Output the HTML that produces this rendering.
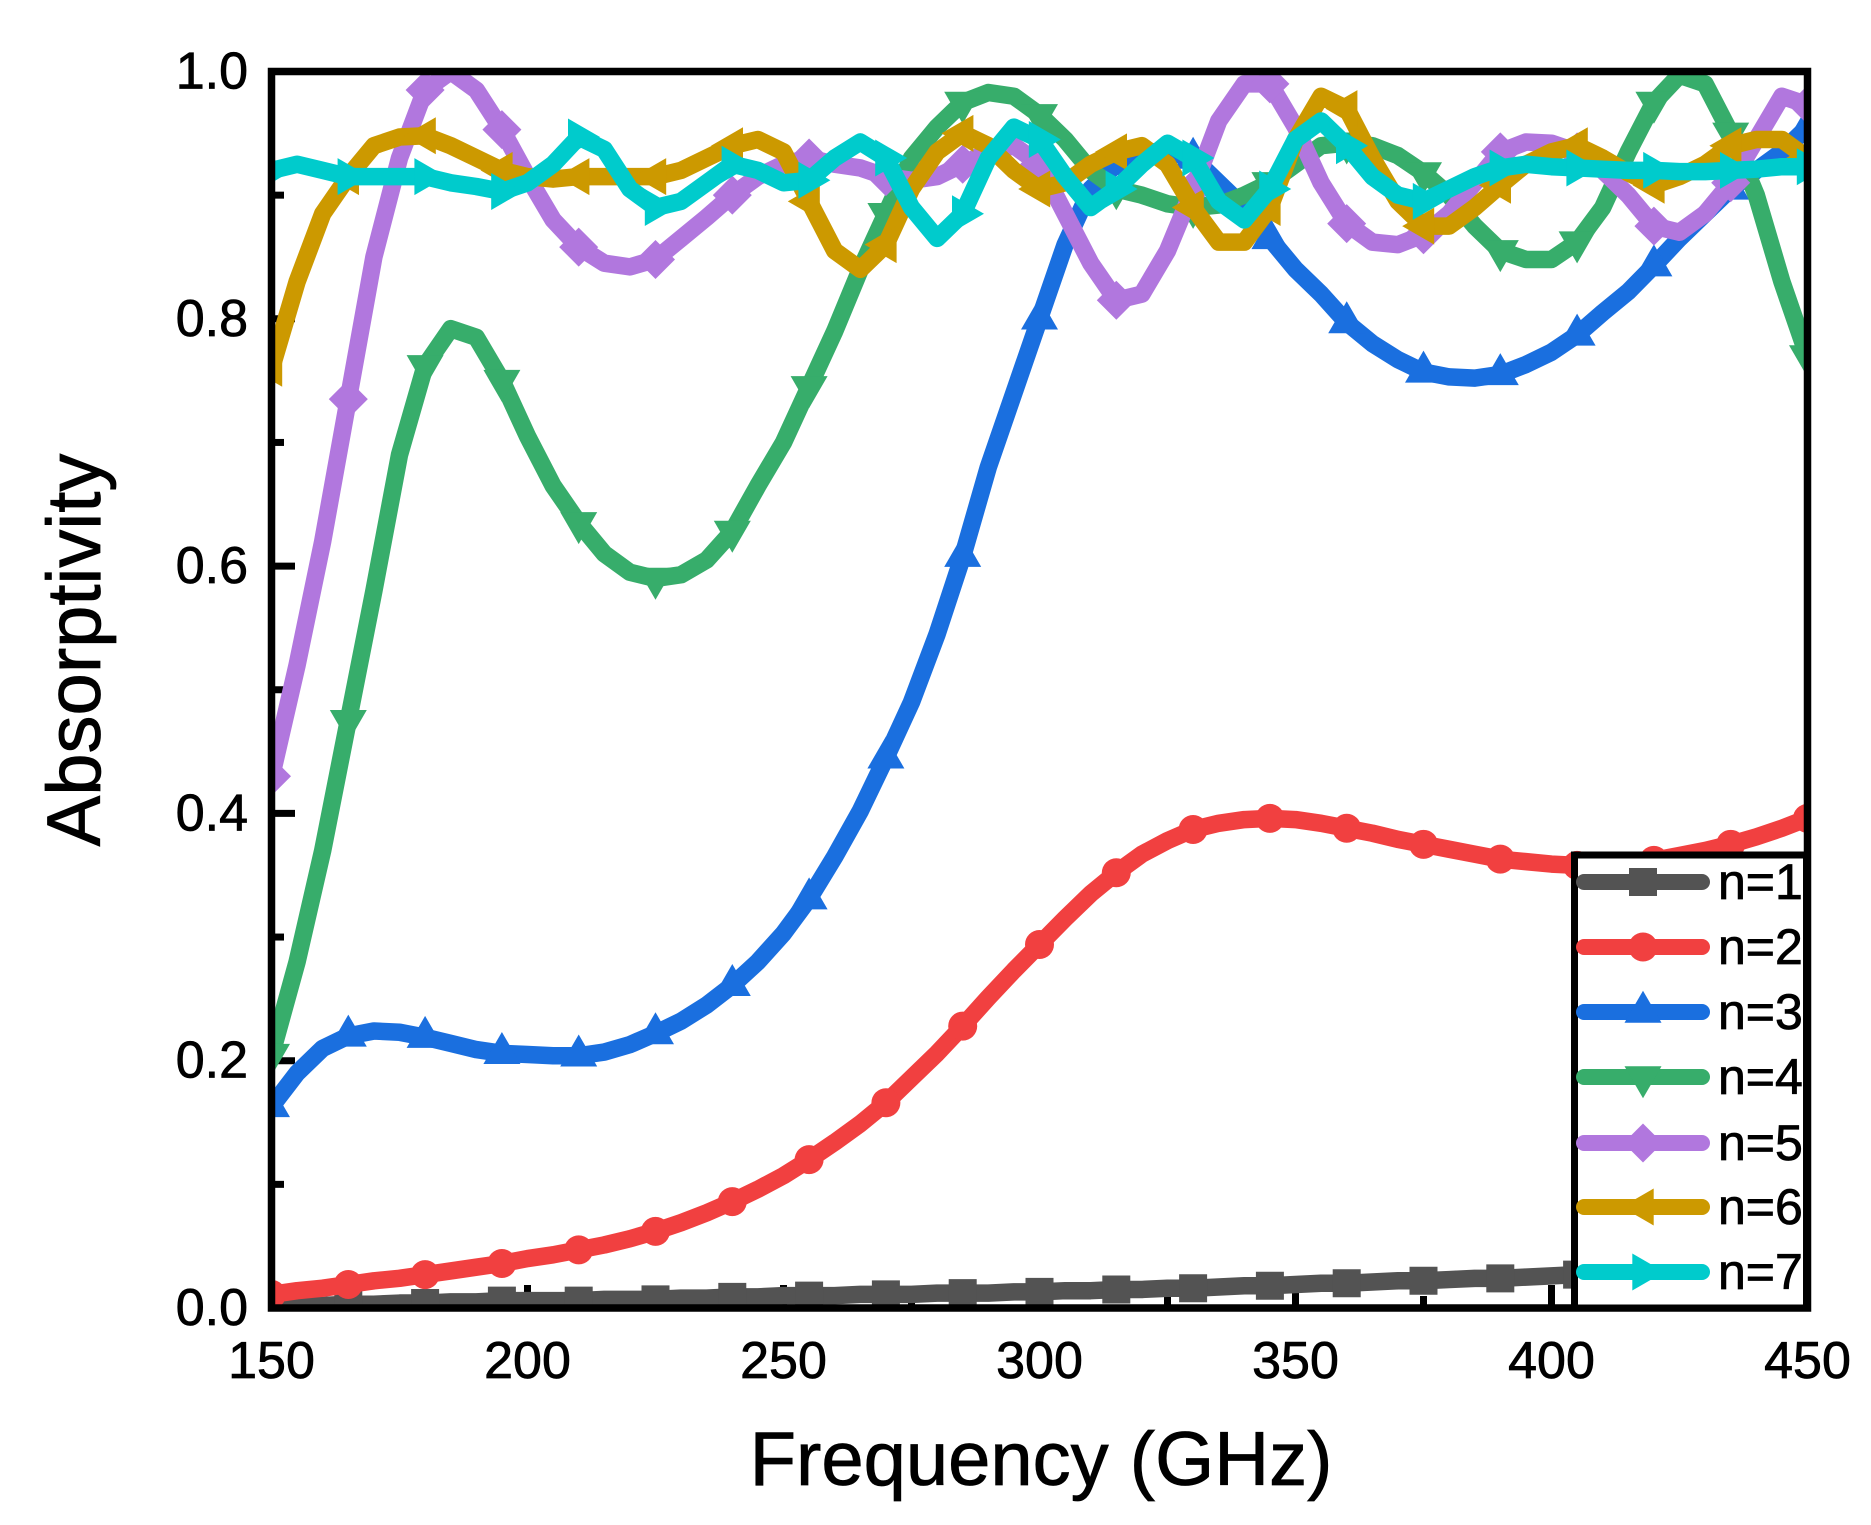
<!DOCTYPE html>
<html lang="en">
<head>
<meta charset="utf-8">
<title>Absorptivity vs Frequency</title>
<style>
html,body{margin:0;padding:0;background:#fff;}
svg{display:block;font-family:"Liberation Sans",Arial,sans-serif;}
svg text{stroke:#000;stroke-width:0.8px;}
</style>
</head>
<body>
<svg id="chart" xmlns="http://www.w3.org/2000/svg" width="1871" height="1525" viewBox="0 0 1871 1525">
<defs><clipPath id="plot-clip"><rect x="275" y="75" width="1529.5" height="1229.5"/></clipPath></defs>
<rect x="0" y="0" width="1871" height="1525" fill="#fff"/>
<g id="ticks"></g>
<g id="series" clip-path="url(#plot-clip)"></g>
<rect x="271.5" y="71.5" width="1536" height="1236.5" fill="none" stroke="#000" stroke-width="7.5"/>
<g id="labels" fill="#000" font-size="52"></g>
<text x="1041" y="1485" font-size="76" text-anchor="middle" fill="#000">Frequency (GHz)</text>
<text transform="translate(100 650) rotate(-90)" font-size="76" text-anchor="middle" fill="#000">Absorptivity</text>
<g id="legend">
<rect x="1574.5" y="855" width="232" height="453" fill="#fff" stroke="#000" stroke-width="7"/>
</g>
</svg>
<script>
const freqs = [150,155,160,165,170,175,180,185,190,195,200,205,210,215,220,225,230,235,240,245,250,255,260,265,270,275,280,285,290,295,300,305,310,315,320,325,330,335,340,345,350,355,360,365,370,375,380,385,390,395,400,405,410,415,420,425,430,435,440,445,450];
const n1 = [.000,.001,.002,.003,.003,.004,.004,.005,.005,.006,.006,.006,.006,.007,.007,.007,.008,.008,.009,.009,.010,.010,.010,.011,.011,.011,.012,.012,.012,.013,.013,.014,.014,.015,.015,.016,.016,.017,.018,.018,.019,.020,.020,.021,.022,.022,.023,.024,.024,.025,.026,.027,.028,.029,.030,.032,.034,.036,.038,.040,.042];
const n2 = [.011,.014,.016,.019,.022,.024,.027,.030,.033,.036,.040,.043,.047,.051,.056,.062,.069,.077,.086,.096,.107,.120,.134,.149,.166,.186,.206,.228,.251,.273,.294,.315,.335,.352,.367,.378,.387,.392,.395,.396,.395,.392,.388,.384,.379,.375,.371,.367,.363,.361,.359,.358,.359,.360,.362,.366,.370,.375,.381,.388,.396];
const n3 = [.163,.190,.210,.220,.224,.223,.219,.214,.209,.206,.205,.204,.204,.207,.213,.222,.232,.245,.261,.280,.303,.331,.365,.402,.445,.490,.545,.608,.680,.740,.800,.860,.905,.925,.935,.935,.930,.910,.890,.865,.840,.820,.797,.780,.767,.757,.753,.752,.755,.763,.773,.787,.805,.822,.843,.865,.885,.905,.920,.935,.955];
const n4 = [.205,.280,.370,.475,.580,.690,.762,.792,.785,.750,.705,.665,.635,.610,.595,.590,.593,.605,.628,.665,.700,.745,.790,.840,.885,.930,.955,.975,.983,.980,.965,.945,.920,.905,.900,.893,.890,.892,.900,.910,.925,.940,.942,.940,.932,.918,.900,.875,.855,.848,.848,.862,.890,.935,.975,.997,.990,.950,.900,.830,.770];
const n5 = [.430,.520,.620,.735,.850,.930,.985,1.000,.985,.953,.915,.880,.858,.845,.842,.848,.865,.882,.900,.915,.925,.930,.925,.922,.915,.912,.915,.925,.935,.940,.925,.885,.845,.815,.820,.855,.905,.960,.990,.990,.955,.910,.877,.862,.860,.868,.885,.910,.935,.943,.942,.935,.920,.900,.875,.870,.885,.910,.945,.980,.973];
const n6 = [.760,.830,.885,.915,.940,.947,.948,.940,.930,.920,.915,.913,.915,.915,.915,.915,.920,.930,.940,.945,.935,.895,.855,.840,.860,.905,.935,.950,.940,.920,.905,.910,.925,.935,.940,.925,.890,.862,.862,.890,.945,.980,.970,.930,.895,.875,.875,.890,.908,.925,.935,.940,.930,.918,.908,.915,.925,.940,.945,.945,.930];
const n7 = [.920,.925,.920,.915,.915,.915,.915,.910,.907,.903,.910,.925,.947,.937,.905,.890,.895,.910,.925,.920,.910,.912,.930,.943,.930,.890,.865,.885,.930,.955,.945,.915,.890,.905,.925,.942,.930,.895,.880,.905,.945,.960,.940,.915,.900,.895,.905,.915,.922,.925,.923,.922,.921,.920,.920,.919,.919,.920,.921,.923,.923];
const seriesLabels = ['n=1','n=2','n=3','n=4','n=5','n=6','n=7'];
const seriesValues = [n1,n2,n3,n4,n5,n6,n7];
const seriesColors = ['#535353','#F14040','#1A6FDF','#37AD6B','#B177DE','#CC9900','#00CBCC'];
const seriesMarkers = ['square','circle','up','down','diamond','left','right'];
const xMajorTicks = [150,200,250,300,350,400,450];
const xMinorTicks = [175,225,275,325,375,425];
const yMajorTicks = [0,0.2,0.4,0.6,0.8,1.0];
const yMinorTicks = [0.1,0.3,0.5,0.7,0.9];
const yTickLabels = ['0.0','0.2','0.4','0.6','0.8','1.0'];

const SVG_NS = 'http://www.w3.org/2000/svg';
function xScale(v){ return 271.5 + (v - 150) * (1536 / 300); }
function yScale(v){ return 1308 - v * 1236.5; }
function make(tag, attrs, parent){
  const el = document.createElementNS(SVG_NS, tag);
  for (const k in attrs) el.setAttribute(k, attrs[k]);
  parent.appendChild(el);
  return el;
}
function markerPoints(kind, cx, cy){
  const pts = {
    up: [[0,-21.3],[18.5,10.7],[-18.5,10.7]],
    down: [[0,21.3],[18.5,-10.7],[-18.5,-10.7]],
    left: [[-21.3,0],[10.7,-18.5],[10.7,18.5]],
    right: [[21.3,0],[-10.7,-18.5],[-10.7,18.5]],
    diamond: [[0,-19.5],[19.5,0],[0,19.5],[-19.5,0]],
    square: [[-14,-14],[14,-14],[14,14],[-14,14]]
  }[kind];
  return pts.map(p => (cx + p[0]) + ',' + (cy + p[1])).join(' ');
}
function drawMarker(kind, cx, cy, color, parent){
  let m;
  if (kind === 'circle') {
    m = make('circle', {cx: cx, cy: cy, r: 14.5, fill: color}, parent);
  } else {
    m = make('polygon', {points: markerPoints(kind, cx, cy), fill: color}, parent);
  }
  return m;
}

const tickGroup = document.getElementById('ticks');
xMajorTicks.forEach(v => {
  const t = make('line', {x1: xScale(v), x2: xScale(v), y1: 1308, y2: 1285, stroke: '#000', 'stroke-width': 7}, tickGroup);
  
  
});
xMinorTicks.forEach(v => {
  const t = make('line', {x1: xScale(v), x2: xScale(v), y1: 1308, y2: 1296, stroke: '#000', 'stroke-width': 7}, tickGroup);
  
  
});
yMajorTicks.forEach(v => {
  const t = make('line', {x1: 271.5, x2: 295, y1: yScale(v), y2: yScale(v), stroke: '#000', 'stroke-width': 7}, tickGroup);
  
  
});
yMinorTicks.forEach(v => {
  const t = make('line', {x1: 271.5, x2: 284, y1: yScale(v), y2: yScale(v), stroke: '#000', 'stroke-width': 7}, tickGroup);
  
  
});

const labelGroup = document.getElementById('labels');
xMajorTicks.forEach(v => {
  const t = make('text', {x: xScale(v), y: 1378, 'text-anchor': 'middle'}, labelGroup);
  t.textContent = String(v);
  
  
});
yMajorTicks.forEach((v, i) => {
  const t = make('text', {x: 248, y: yScale(v) + 17, 'text-anchor': 'end'}, labelGroup);
  t.textContent = yTickLabels[i];
  
  
});

const seriesGroup = document.getElementById('series');
seriesValues.forEach((vals, s) => {
  const g = make('g', {}, seriesGroup);
  
  
  const pts = vals.map((v, i) => xScale(freqs[i]) + ',' + yScale(v)).join(' ');
  const line = make('polyline', {points: pts, fill: 'none', stroke: seriesColors[s], 'stroke-width': 17.5, 'stroke-linejoin': 'round'}, g);
  
  
  vals.forEach((v, i) => {
    if (i % 3 !== 0) return;
    const m = drawMarker(seriesMarkers[s], xScale(freqs[i]), yScale(v), seriesColors[s], g);
    
    
  });
});

const legendGroup = document.getElementById('legend');
const legendRowY = [882, 947, 1012, 1077, 1143, 1207, 1272];
seriesLabels.forEach((label, s) => {
  const y = legendRowY[s];
  const g = make('g', {}, legendGroup);
  
  
  const l = make('line', {x1: 1584, x2: 1702, y1: y, y2: y, stroke: seriesColors[s], 'stroke-width': 16, 'stroke-linecap': 'round'}, g);
  
  
  const m = drawMarker(seriesMarkers[s], 1643, y, seriesColors[s], g);
  
  
  const t = make('text', {x: 1718, y: y + 17, 'font-size': 50, fill: '#000'}, g);
  t.textContent = label;
  
  
});
</script>
</body>
</html>
